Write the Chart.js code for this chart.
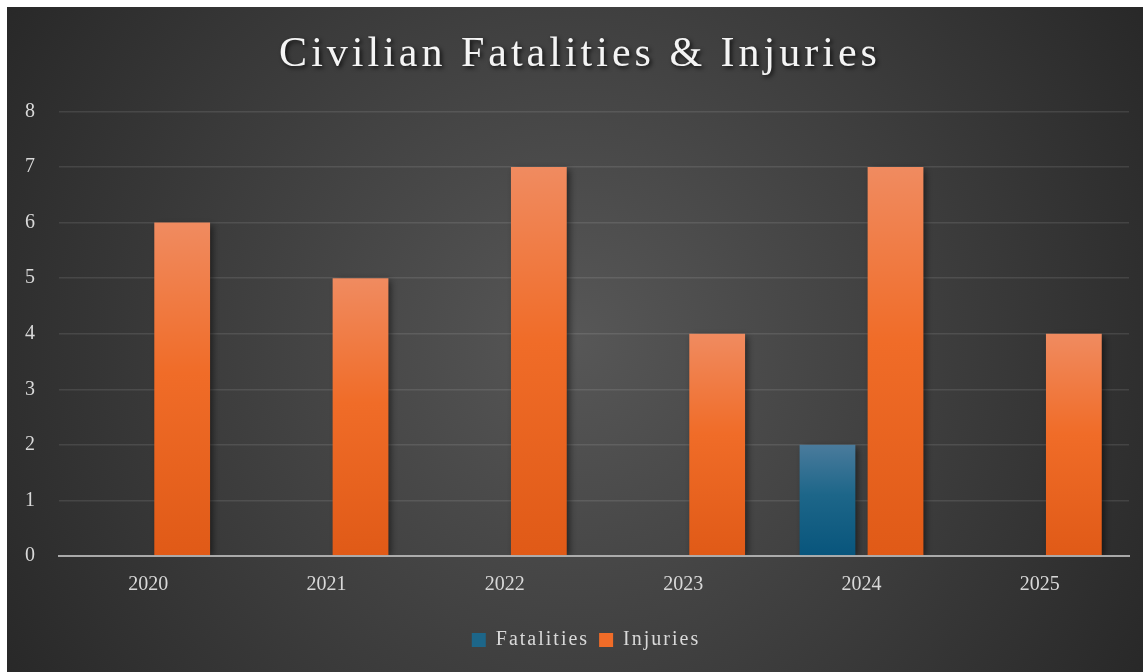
<!DOCTYPE html>
<html>
<head>
<meta charset="utf-8">
<title>Civilian Fatalities & Injuries</title>
<script src="https://cdn.jsdelivr.net/npm/chart.js@4.4.1/dist/chart.umd.min.js"></script>
<style>
    html, body { margin: 0; padding: 0; background: #ffffff; }
    #wrap { position: absolute; left: 7px; top: 7px; width: 1136px; height: 665px; }
</style>
</head>
<body>
<div id="wrap"><canvas id="grafico"></canvas></div>
<script>
// Dados do gráfico
const anos = ['2020', '2021', '2022', '2023', '2024', '2025'];
const fatalidades = [0, 0, 0, 0, 2, 0];
const feridos = [6, 5, 7, 4, 7, 4];
const rotulosSeries = ['Fatalities', 'Injuries'];
const tituloGrafico = 'Civilian Fatalities & Injuries';

const fonteSerif = '"Liberation Serif", "Times New Roman", serif';

// Gradiente vertical para cada barra (mais claro no topo)
function gradienteBarra(corTopo, corBase, corSolida) {
    return function (context) {
        const chart = context.chart;
        if (!chart.chartArea || !context.parsed || context.type !== 'data') return corSolida;
        const y = chart.scales.y;
        const topo = y.getPixelForValue(context.parsed.y);
        const base = y.getPixelForValue(0);
        if (!isFinite(topo) || topo === base) return corSolida;
        const g = chart.ctx.createLinearGradient(0, topo, 0, base);
        g.addColorStop(0, corTopo);
        g.addColorStop(0.45, corSolida);
        g.addColorStop(1, corBase);
        return g;
    };
}

// Fundo escuro com brilho radial no centro + sombras nas barras
const pluginFundo = {
    id: 'fundo',
    beforeDraw(chart) {
        const ctx = chart.ctx;
        const w = chart.width, h = chart.height;
        ctx.save();
        const g = ctx.createRadialGradient(w * 0.5, h * 0.5, 0, w * 0.5, h * 0.5, w * 0.62);
        g.addColorStop(0, '#575757');
        g.addColorStop(1, '#252525');
        ctx.fillStyle = g;
        ctx.fillRect(0, 0, w, h);
        ctx.restore();

        // espaçamento de letras no título e na legenda
        const t = chart.titleBlock;
        if (t && !t._espacado) {
            const desenhaTitulo = t.draw.bind(t);
            t.draw = function (area) {
                const c = this.ctx;
                c.save();
                c.translate(12, 0);
                c.letterSpacing = '4px';
                c.shadowColor = 'rgba(0,0,0,0.75)';
                c.shadowOffsetX = 2;
                c.shadowOffsetY = 2;
                c.shadowBlur = 4;
                desenhaTitulo(area);
                c.restore();
            };
            t._espacado = true;
        }
        const l = chart.legend;
        if (l && !l._espacado) {
            const desenhaLegenda = l.draw.bind(l);
            l.draw = function (area) {
                const c = this.ctx;
                c.save();
                c.letterSpacing = '2px';
                desenhaLegenda(area);
                c.restore();
            };
            l._espacado = true;
        }
    },
    beforeDatasetsDraw(chart) {
        const ctx = chart.ctx;
        ctx.save();
        ctx.shadowColor = 'rgba(0,0,0,0.55)';
        ctx.shadowBlur = 7;
        ctx.shadowOffsetX = 3;
        ctx.shadowOffsetY = 2;
    },
    afterDatasetsDraw(chart) {
        chart.ctx.restore();
    }
};

const ctx = document.getElementById('grafico').getContext('2d');
new Chart(ctx, {
    type: 'bar',
    data: {
        labels: anos,
        datasets: [
            {
                label: rotulosSeries[0],
                data: fatalidades,
                backgroundColor: gradienteBarra('#4a7b9c', '#08557c', '#1d6689'),
                categoryPercentage: 0.763,
                barPercentage: 0.82
            },
            {
                label: rotulosSeries[1],
                data: feridos,
                backgroundColor: gradienteBarra('#f08b60', '#e05a17', '#f06c28'),
                categoryPercentage: 0.763,
                barPercentage: 0.82
            }
        ]
    },
    options: {
        responsive: true,
        maintainAspectRatio: false,
        animation: false,
        layout: { padding: { top: 0, right: 14, bottom: 12, left: 0 } },
        plugins: {
            title: {
                display: true,
                text: tituloGrafico,
                color: '#f4f4f4',
                font: { family: fonteSerif, size: 42, weight: 'normal' },
                padding: { top: 23, bottom: 31 }
            },
            legend: {
                position: 'bottom',
                labels: {
                    color: '#d9d9d9',
                    font: { family: fonteSerif, size: 20 },
                    boxWidth: 14,
                    boxHeight: 14,
                    padding: 10,
                    generateLabels(chart) {
                        const cores = ['#1d6689', '#f06c28'];
                        return chart.data.datasets.map((ds, i) => ({
                            text: ds.label,
                            fillStyle: cores[i],
                            strokeStyle: cores[i],
                            lineWidth: 0,
                            fontColor: '#d9d9d9',
                            hidden: !chart.isDatasetVisible(i),
                            datasetIndex: i
                        }));
                    }
                }
            },
            tooltip: { enabled: false }
        },
        scales: {
            x: {
                grid: { display: false, drawTicks: false },
                border: { display: true, color: 'rgba(190,190,190,0.85)', width: 2, z: 1 },
                ticks: {
                    color: '#d9d9d9',
                    font: { family: fonteSerif, size: 20 },
                    padding: 17
                },
                afterFit(scale) { scale.height = 64; }
            },
            y: {
                min: 0,
                max: 8,
                ticks: {
                    stepSize: 1,
                    color: '#d9d9d9',
                    font: { family: fonteSerif, size: 20 },
                    padding: 24
                },
                grid: {
                    color: (c) => c.tick && c.tick.value === 0 ? 'rgba(0,0,0,0)' : 'rgba(255,255,255,0.1)',
                    lineWidth: 1.5,
                    drawTicks: false
                },
                border: { display: false },
                afterFit(scale) { scale.width = 52; }
            }
        }
    },
    plugins: [pluginFundo]
});
</script>
</body>
</html>
